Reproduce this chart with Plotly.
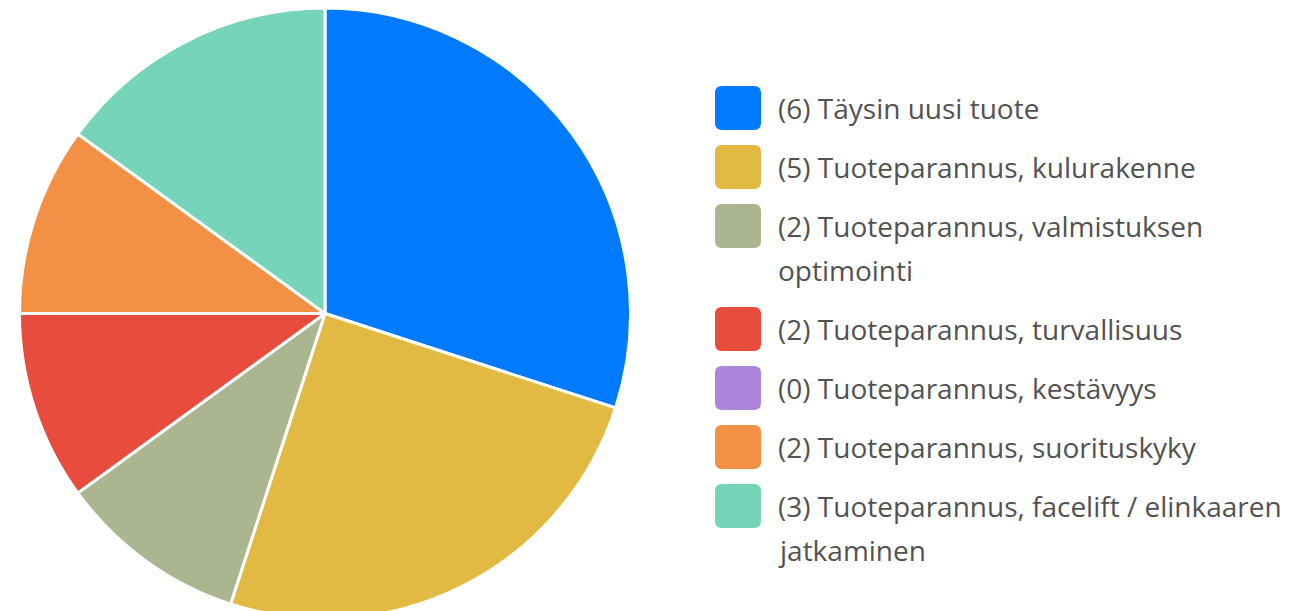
import textwrap
import plotly.graph_objects as go

categories = [
    "Täysin uusi tuote",
    "Tuoteparannus, kulurakenne",
    "Tuoteparannus, valmistuksen optimointi",
    "Tuoteparannus, turvallisuus",
    "Tuoteparannus, kestävyys",
    "Tuoteparannus, suorituskyky",
    "Tuoteparannus, facelift / elinkaaren jatkaminen",
]
values = [6, 5, 2, 2, 0, 2, 3]
colors = ["#007bff", "#e2ba43", "#abb690", "#e74c3c", "#ad86db", "#f29145", "#76d5b9"]

W, H = 1309, 611

fig = go.Figure()
fig.add_trace(go.Pie(
    labels=categories,
    values=values,
    marker=dict(colors=colors, line=dict(color="white", width=3)),
    sort=False,
    direction="clockwise",
    rotation=0,
    textinfo="none",
    showlegend=False,
    domain=dict(x=[2 / W, 632 / W], y=[0, 1]),
))

# custom legend (large rounded swatches, wrapped text)
shapes, annotations = [], []
y = 100
item_gap = 59
line_h = 44
sw_x0, sw_x1, sw_h, rad = 707, 753, 44, 7
text_x = 768


def rounded_rect(x0, y0, x1, y1, r):
    # pixel coords -> paper coords
    def px(x):
        return x / W

    def py(yv):
        return 1 - yv / H
    return (f"M {px(x0 + r)} {py(y0)} L {px(x1 - r)} {py(y0)} "
            f"Q {px(x1)} {py(y0)} {px(x1)} {py(y0 + r)} L {px(x1)} {py(y1 - r)} "
            f"Q {px(x1)} {py(y1)} {px(x1 - r)} {py(y1)} L {px(x0 + r)} {py(y1)} "
            f"Q {px(x0)} {py(y1)} {px(x0)} {py(y1 - r)} L {px(x0)} {py(y0 + r)} "
            f"Q {px(x0)} {py(y0)} {px(x0 + r)} {py(y0)} Z")


for cat, val, col in zip(categories, values, colors):
    lines = textwrap.wrap(f"({val}) {cat}", 40)
    shapes.append(dict(type="path", xref="paper", yref="paper",
                       path=rounded_rect(sw_x0, y - sw_h / 2, sw_x1, y + sw_h / 2, rad),
                       fillcolor=col, line=dict(width=0)))
    for i, ln in enumerate(lines):
        annotations.append(dict(
            x=text_x / W, y=1 - (y + i * line_h) / H, xref="paper", yref="paper",
            text=ln, showarrow=False, xanchor="left", yanchor="middle",
            font=dict(family="Open Sans, Noto Sans, sans-serif", size=28, color="#525252"),
        ))
    y += item_gap + (len(lines) - 1) * line_h

fig.update_layout(
    width=W, height=H,
    margin=dict(l=0, r=0, t=0, b=0),
    paper_bgcolor="white",
    plot_bgcolor="white",
    shapes=shapes,
    annotations=annotations,
)

fig.write_html("out.html")
